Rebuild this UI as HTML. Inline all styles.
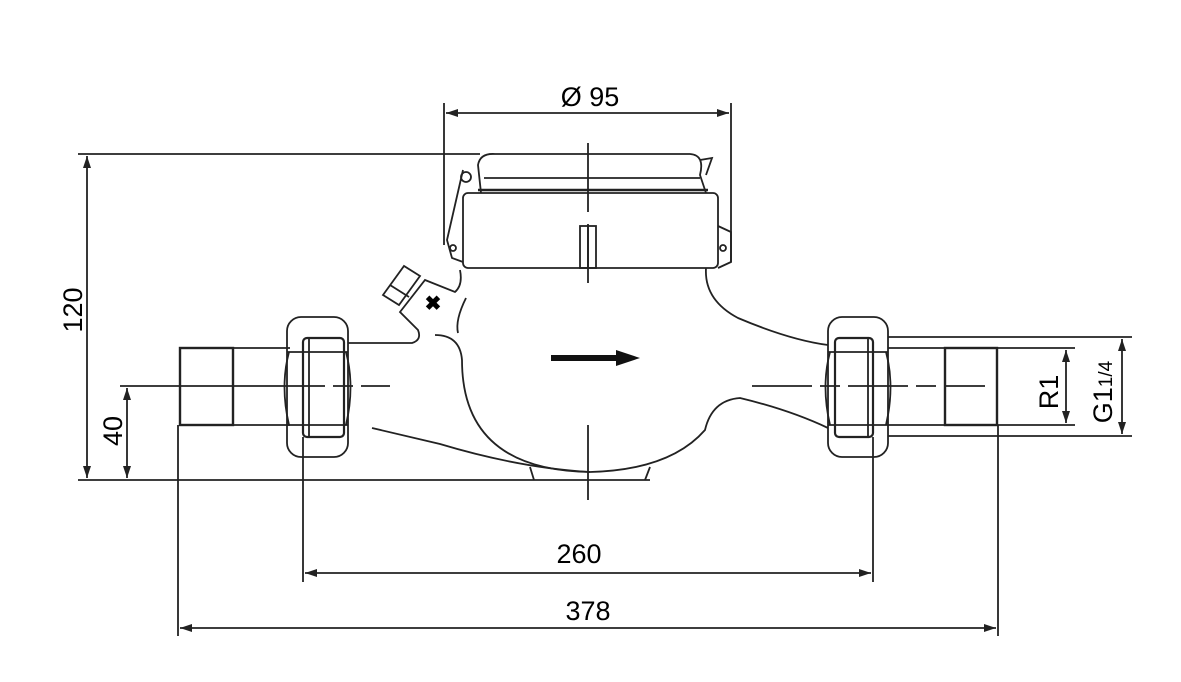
<!DOCTYPE html>
<html><head><meta charset="utf-8"><style>
html,body{margin:0;padding:0;background:#fff;}
svg{display:block;}
text{font-family:"Liberation Sans",Arial,sans-serif;fill:#000;}
</style></head><body>
<svg width="1181" height="682" viewBox="0 0 1181 682" xmlns="http://www.w3.org/2000/svg">
<defs>
<marker id="a" viewBox="0 0 12 8" refX="12" refY="4" markerWidth="12" markerHeight="8" orient="auto-start-reverse" markerUnits="userSpaceOnUse"><path d="M0,0 L12,4 L0,8 z" fill="#222"/></marker>
</defs>
<g fill="none" stroke="#222" stroke-width="1.8">
<line x1="78" y1="154" x2="480" y2="154"/>
<line x1="78" y1="480" x2="650" y2="480"/>
<line x1="120" y1="386" x2="265" y2="386"/>
<line x1="444" y1="103" x2="444" y2="245"/>
<line x1="731" y1="103" x2="731" y2="262"/>
<line x1="303" y1="437" x2="303" y2="582"/>
<line x1="873" y1="437" x2="873" y2="582"/>
<line x1="178" y1="425" x2="178" y2="636"/>
<line x1="998" y1="425" x2="998" y2="636"/>
<line x1="888" y1="337" x2="1132" y2="337"/>
<line x1="888" y1="436" x2="1132" y2="436"/>
<line x1="997" y1="348" x2="1075" y2="348"/>
<line x1="997" y1="425" x2="1075" y2="425"/>
<line x1="446" y1="113" x2="729" y2="113" marker-start="url(#a)" marker-end="url(#a)"/>
<line x1="87" y1="156" x2="87" y2="478" marker-start="url(#a)" marker-end="url(#a)"/>
<line x1="127" y1="388" x2="127" y2="478" marker-start="url(#a)" marker-end="url(#a)"/>
<line x1="305" y1="573" x2="871" y2="573" marker-start="url(#a)" marker-end="url(#a)"/>
<line x1="180" y1="628" x2="996" y2="628" marker-start="url(#a)" marker-end="url(#a)"/>
<line x1="1066" y1="350" x2="1066" y2="423" marker-start="url(#a)" marker-end="url(#a)"/>
<line x1="1122" y1="339" x2="1122" y2="434" marker-start="url(#a)" marker-end="url(#a)"/>
<line x1="265" y1="386" x2="390" y2="386" stroke-dasharray="60 8 20 8"/>
<line x1="752" y1="386" x2="985" y2="386" stroke-dasharray="60 8 20 8"/>
<line x1="588" y1="143" x2="588" y2="212"/>
<line x1="588" y1="224" x2="588" y2="283"/>
<line x1="588" y1="425" x2="588" y2="500"/>
<rect x="180" y="348" width="53" height="77" stroke-width="2.4"/>
<line x1="233" y1="348" x2="290" y2="348"/>
<line x1="233" y1="425" x2="290" y2="425"/>
<rect x="287" y="317" width="61" height="140" rx="14"/>
<path d="M289 352 Q280 386 289 425 M346 352 Q355 386 346 425"/>
<line x1="287" y1="352" x2="348" y2="352"/><line x1="287" y1="425" x2="348" y2="425"/>
<rect x="303" y="338" width="41" height="99" rx="4" stroke-width="2.2"/>
<line x1="309" y1="338" x2="309" y2="437"/>
<rect x="828" y="317" width="60" height="140" rx="14"/>
<path d="M830 352 Q821 386 830 425 M886 352 Q895 386 886 425"/>
<line x1="828" y1="352" x2="888" y2="352"/><line x1="828" y1="425" x2="888" y2="425"/>
<rect x="835" y="338" width="38" height="99" rx="4" stroke-width="2.2"/>
<line x1="868" y1="338" x2="868" y2="437"/>
<line x1="888" y1="348" x2="945" y2="348"/>
<line x1="888" y1="425" x2="945" y2="425"/>
<rect x="945" y="348" width="52" height="77" stroke-width="2.4"/>
<path d="M348 343 L412 343 Q422 340 418 330 L400 312 L425 280 L455 292 Q463 285 460 270"/>
<path d="M372 428 L440 444 Q520 468 590 472 Q670 470 705 430 Q712 400 740 398 Q790 410 828 428"/>
<path d="M435 335 Q460 335 462 360 Q462 470 590 472"/>
<path d="M466 298 Q455 320 458 333"/>
<path d="M706 268 Q704 300 738 318 Q790 340 828 345"/>
<path d="M530 467 L534 480 M650 467 L645 480"/>
<rect x="463" y="193" width="255" height="75" rx="5"/>
<path d="M481 193 L478 165 Q480 153 495 154 L690 154 Q705 155 700 175 L706 193"/>
<line x1="484" y1="178" x2="700" y2="178"/>
<line x1="478" y1="190" x2="708" y2="190" stroke-width="2.4"/>
<path d="M463 170 L447 240 L452 258 L463 262"/>
<path d="M718 226 L731 232 L731 262 L718 268"/>
<path d="M700 160 L712 158 L706 175"/>
<circle cx="466" cy="177" r="5"/>
<circle cx="453" cy="248" r="3"/><circle cx="723" cy="248" r="3"/>
<rect x="580" y="226" width="16" height="42"/>
<line x1="588" y1="226" x2="588" y2="268"/>
<path d="M383 295 L404 266 L420 276 L399 305 Z"/>
<line x1="390" y1="285" x2="409" y2="297"/>
</g>
<path d="M551 355 L616 355 L616 350 L640 358 L616 366 L616 361 L551 361 Z" fill="#111"/>
<text x="433" y="310" font-size="20" font-weight="bold" text-anchor="middle">✖</text>
<text x="590" y="106" font-size="27" text-anchor="middle">Ø 95</text>
<text x="579" y="563" font-size="27" text-anchor="middle">260</text>
<text x="588" y="620" font-size="27" text-anchor="middle">378</text>
<text transform="translate(82,310) rotate(-90)" font-size="27" text-anchor="middle">120</text>
<text transform="translate(122,431) rotate(-90)" font-size="27" text-anchor="middle">40</text>
<text transform="translate(1058,392) rotate(-90)" font-size="27" text-anchor="middle">R1</text>
<text transform="translate(1112,392) rotate(-90)" font-size="27" text-anchor="middle">G1<tspan font-size="19">1/4</tspan></text>
</svg>
</body></html>
